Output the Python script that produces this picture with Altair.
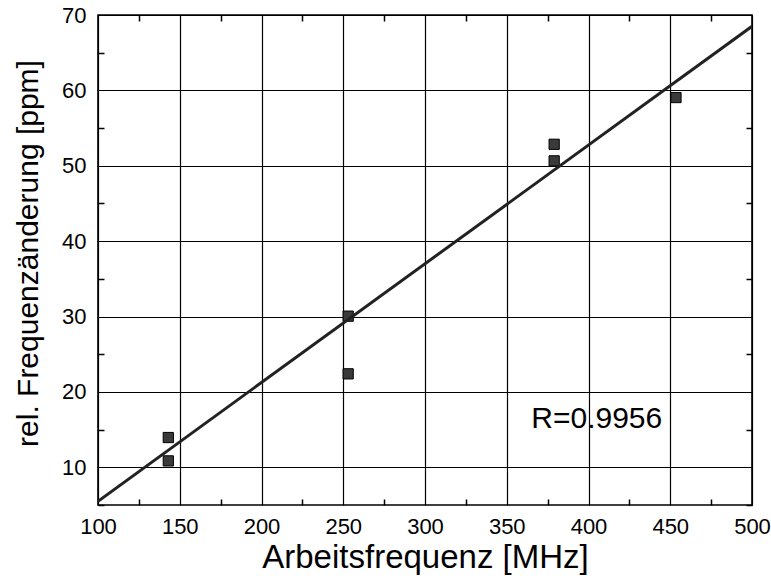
import altair as alt
import pandas as pd

# measured values
freq = [143, 143, 253, 253, 379, 379, 453.5]
ppm = [13.95, 10.85, 30.05, 22.4, 52.85, 50.65, 59.05]

fit_x = [100, 500]
fit_y = [5.5, 68.5]

x_major = [100, 150, 200, 250, 300, 350, 400, 450, 500]
x_minor = [125, 175, 225, 275, 325, 375, 425, 475]
y_major = [10, 20, 30, 40, 50, 60, 70]
y_minor = [5, 15, 25, 35, 45, 55, 65]

label_text = ["R=0.9956"]
label_x = [365]
label_y = [15.2]

pts = pd.DataFrame({"f": freq, "p": ppm})
fit = pd.DataFrame({"f": fit_x, "p": fit_y})
lab = pd.DataFrame({"f": label_x, "p": label_y, "t": label_text})

xs = alt.Scale(domain=[100, 500], nice=False, zero=False)
ys = alt.Scale(domain=[5, 70], nice=False, zero=False)

FONT = "Liberation Sans"

main_x = alt.Axis(orient="bottom", values=x_major, grid=True, gridColor="black",
                  gridWidth=1.2, ticks=False, tickSize=0, domain=False,
                  labelFontSize=22, labelPadding=11, labelFlush=False,
                  labelOverlap=False, labelColor="black", labelFont=FONT,
                  title="Arbeitsfrequenz [MHz]", titleFontSize=33,
                  titleFontWeight="normal", titleFont=FONT, titleColor="black",
                  titleBaseline="alphabetic", titleY=62)
main_y = alt.Axis(orient="left", values=y_major, grid=True, gridColor="black",
                  gridWidth=1.2, ticks=False, tickSize=0, domain=False,
                  labelFontSize=22, labelPadding=12, labelFlush=False,
                  labelOverlap=False, labelColor="black", labelFont=FONT,
                  title="rel. Frequenzänderung [ppm]", titleFontSize=30,
                  titleFontWeight="normal", titleFont=FONT, titleColor="black",
                  titleBaseline="alphabetic", titleAngle=270, titleAlign="center",
                  titleX=-61, titleY=238)

def minor_axis(orient, vals):
    return alt.Axis(orient=orient, values=vals, grid=False, ticks=True, tickSize=6,
                    tickWidth=1.5, tickColor="black", domain=False, labels=False,
                    offset=-6, title=None)

points = alt.Chart(pts).mark_point(shape="square", filled=True, size=105,
                                   color="#3a3a3a", stroke="black",
                                   strokeWidth=1, opacity=1).encode(
    x=alt.X("f:Q", scale=xs, axis=main_x),
    y=alt.Y("p:Q", scale=ys, axis=main_y),
)

line = alt.Chart(fit).mark_line(color="#222222", strokeWidth=3, clip=True).encode(
    x=alt.X("f:Q", scale=xs, axis=minor_axis("bottom", x_minor)),
    y=alt.Y("p:Q", scale=ys, axis=minor_axis("left", y_minor)),
)

text = alt.Chart(lab).mark_text(fontSize=30, font=FONT, align="left",
                                baseline="alphabetic", color="black").encode(
    x=alt.X("f:Q", scale=xs, axis=minor_axis("top", x_minor)),
    y=alt.Y("p:Q", scale=ys, axis=minor_axis("right", y_minor)),
    text="t:N",
)

chart = alt.layer(points, line, text).resolve_axis(
    x="independent", y="independent"
).properties(
    width=654, height=490,
    autosize=alt.AutoSizeParams(type="none"),
    padding={"left": 98, "top": 15, "right": 19, "bottom": 80},
    background="white",
).configure_view(stroke="black", strokeWidth=1.6)

chart.save("out.html", embed_options={"renderer": "svg", "actions": False})
